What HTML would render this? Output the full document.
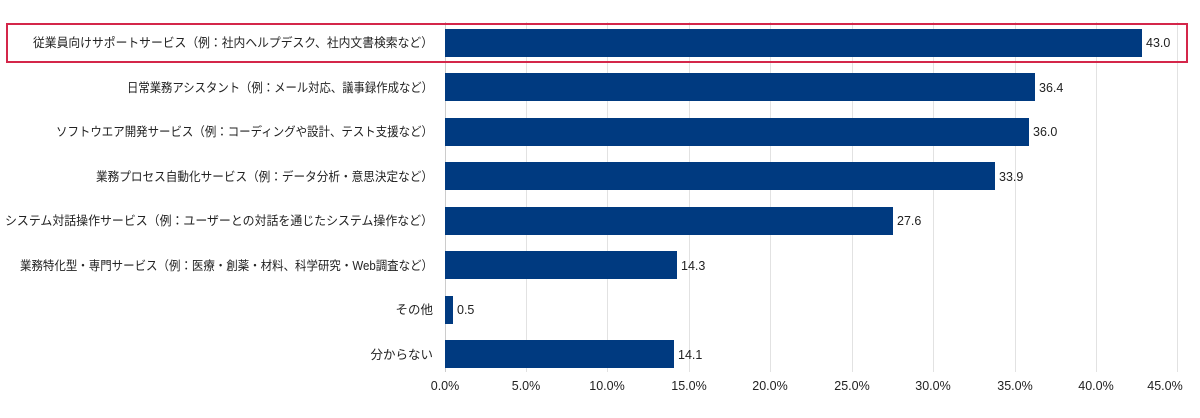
<!DOCTYPE html>
<html><head><meta charset="utf-8"><style>
body{margin:0;background:#fff;width:1200px;height:413px;overflow:hidden}
svg text{font-family:"Liberation Sans","Noto Sans CJK JP",sans-serif;fill:#222}
</style></head><body>
<svg width="1200" height="413" xmlns="http://www.w3.org/2000/svg">
<g stroke="#e2e2e2" stroke-width="1">
<line x1="526.5" y1="22" x2="526.5" y2="372"/><line x1="607.5" y1="22" x2="607.5" y2="372"/>
<line x1="689.5" y1="22" x2="689.5" y2="372"/><line x1="770.5" y1="22" x2="770.5" y2="372"/>
<line x1="852.5" y1="22" x2="852.5" y2="372"/><line x1="933.5" y1="22" x2="933.5" y2="372"/>
<line x1="1015.5" y1="22" x2="1015.5" y2="372"/><line x1="1096.5" y1="22" x2="1096.5" y2="372"/>
<line x1="1177.5" y1="22" x2="1177.5" y2="372"/>
</g>
<line x1="445.5" y1="22" x2="445.5" y2="372" stroke="#ccc"/>
<rect x="7" y="24" width="1180" height="38" fill="none" stroke="#d4264a" stroke-width="2"/>
<g fill="#003a80">
<rect x="445" y="29" width="697" height="28"/>
<rect x="445" y="73" width="590" height="28"/>
<rect x="445" y="118" width="584" height="28"/>
<rect x="445" y="162" width="550" height="28"/>
<rect x="445" y="207" width="448" height="28"/>
<rect x="445" y="251" width="232" height="28"/>
<rect x="445" y="296" width="8" height="28"/>
<rect x="445" y="340" width="229" height="28"/>
</g>
<g font-size="12.5" text-anchor="end">
<text x="433" y="47" textLength="400" lengthAdjust="spacingAndGlyphs">従業員向けサポートサービス（例：社内ヘルプデスク、社内文書検索など）</text>
<text x="433" y="92" textLength="306" lengthAdjust="spacingAndGlyphs">日常業務アシスタント（例：メール対応、議事録作成など）</text>
<text x="433" y="136" textLength="377" lengthAdjust="spacingAndGlyphs">ソフトウエア開発サービス（例：コーディングや設計、テスト支援など）</text>
<text x="433" y="181" textLength="337" lengthAdjust="spacingAndGlyphs">業務プロセス自動化サービス（例：データ分析・意思決定など）</text>
<text x="433" y="225" textLength="428" lengthAdjust="spacingAndGlyphs">システム対話操作サービス（例：ユーザーとの対話を通じたシステム操作など）</text>
<text x="433" y="270" textLength="413" lengthAdjust="spacingAndGlyphs">業務特化型・専門サービス（例：医療・創薬・材料、科学研究・Web調査など）</text>
<text x="433" y="314">その他</text>
<text x="433" y="359">分からない</text>
</g>
<g font-size="12.5">
<text x="1146" y="47">43.0</text>
<text x="1039" y="92">36.4</text>
<text x="1033" y="136">36.0</text>
<text x="999" y="181">33.9</text>
<text x="897" y="225">27.6</text>
<text x="681" y="270">14.3</text>
<text x="457" y="314">0.5</text>
<text x="678" y="359">14.1</text>
</g>
<g font-size="12.5" text-anchor="middle">
<text x="445" y="390">0.0%</text><text x="526" y="390">5.0%</text><text x="607" y="390">10.0%</text>
<text x="689" y="390">15.0%</text><text x="770" y="390">20.0%</text><text x="852" y="390">25.0%</text>
<text x="933" y="390">30.0%</text><text x="1015" y="390">35.0%</text><text x="1096" y="390">40.0%</text>
<text x="1165" y="390">45.0%</text>
</g>
</svg>
</body></html>
